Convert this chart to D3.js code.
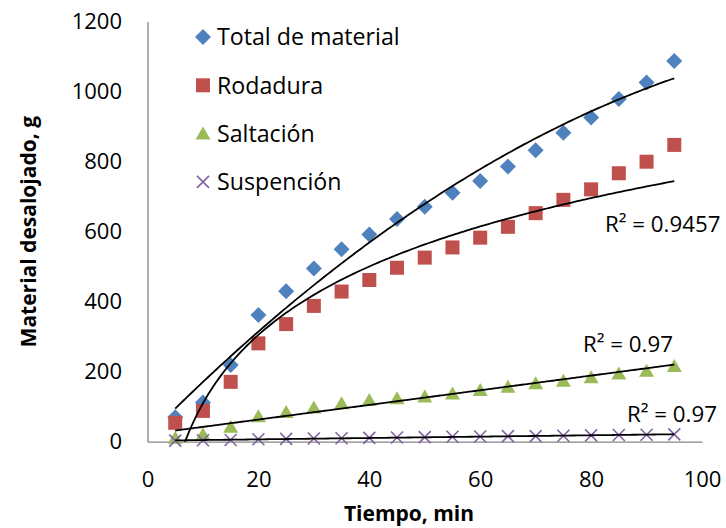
<!DOCTYPE html>
<html>
<head>
<meta charset="utf-8">
<script src="https://cdn.jsdelivr.net/npm/d3@7"></script>
<style>
  body { margin: 0; background: #fff; }
  svg text { font-family: "Open Sans", sans-serif; fill: #000; }
</style>
</head>
<body>
<div id="chart"></div>
<script>
// minutes
const tiempo = [5, 10, 15, 20, 25, 30, 35, 40, 45, 50, 55, 60, 65, 70, 75, 80, 85, 90, 95];

// material desalojado, g
const total = [70, 112, 219, 362, 430, 495, 550, 592, 636, 671, 711, 745, 786, 833, 883, 926, 979, 1026, 1088];
const rodadura = [54, 88, 171, 281, 336, 388, 429, 462, 497, 526, 555, 583, 614, 653, 691, 721, 767, 800, 848];
const saltacion = [11, 21, 43, 73, 85, 98, 110, 119, 124, 129, 138, 148, 157, 167, 174, 184, 195, 203, 216];
const suspencion = [3, 4, 5, 7, 8, 9, 10, 11, 12, 13, 14, 15, 16, 16, 17, 18, 19, 20, 21];

const seriesNames = ["Total de material", "Rodadura", "Saltación", "Suspención"];
const seriesColors = ["#4F81BD", "#C0504D", "#9BBB59", "#8064A2"];
const seriesShapes = ["diamond", "square", "triangle", "cross"];
const trendTypes = ["poly2", "log", "linear", "linear"];
const r2Labels = [null, "R² = 0.9457", "R² = 0.97", "R² = 0.97"];

const xTicks = [0, 20, 40, 60, 80, 100];
const yTicks = [0, 200, 400, 600, 800, 1000, 1200];

const W = 726, H = 528;
const plot = { left: 147.5, right: 702, top: 21.7, bottom: 441.7 };

const svg = d3.select("#chart").append("svg")
    .attr("width", W)
    .attr("height", H);

const x = d3.scaleLinear().domain([0, 100]).range([plot.left, plot.right]);
const y = d3.scaleLinear().domain([0, 1200]).range([plot.bottom, plot.top]);

// axes
const xAxis = svg.append("g")
    .attr("transform", `translate(0, ${plot.bottom})`)
    .call(d3.axisBottom(x).tickValues(xTicks).tickFormat(d3.format("d")).tickSize(0).tickPadding(29.5));
const yAxis = svg.append("g")
    .attr("transform", `translate(${plot.left}, 0)`)
    .call(d3.axisLeft(y).tickValues(yTicks).tickFormat(d3.format("d")).tickSize(0).tickPadding(25.5));

[xAxis, yAxis].forEach(g => {
    g.select(".domain").attr("stroke", "#868686").attr("stroke-width", 1.3);
    g.selectAll("text")
        .attr("font-family", "'Open Sans', sans-serif")
        .attr("font-size", 22)
        .attr("fill", "#000");
});

// axis titles
svg.append("text")
    .attr("x", 409)
    .attr("y", 521)
    .attr("text-anchor", "middle")
    .attr("font-size", 21)
    .attr("font-weight", "bold")
    .text("Tiempo, min");

svg.append("text")
    .attr("transform", `translate(36, ${(plot.top + plot.bottom) / 2}) rotate(-90)`)
    .attr("text-anchor", "middle")
    .attr("font-size", 21)
    .attr("font-weight", "bold")
    .text("Material desalojado, g");

// markers
function drawMarker(g, shape, color, cx, cy) {
    if (shape === "diamond") {
        g.append("path")
            .attr("d", `M${cx},${cy - 8}L${cx + 8},${cy}L${cx},${cy + 8}L${cx - 8},${cy}Z`)
            .attr("fill", color);
    } else if (shape === "square") {
        g.append("rect")
            .attr("x", cx - 7).attr("y", cy - 7)
            .attr("width", 14).attr("height", 14)
            .attr("fill", color);
    } else if (shape === "triangle") {
        g.append("path")
            .attr("d", `M${cx},${cy - 7}L${cx + 7.5},${cy + 6}L${cx - 7.5},${cy + 6}Z`)
            .attr("fill", color);
    } else {
        g.append("path")
            .attr("d", `M${cx - 6},${cy - 6}L${cx + 6},${cy + 6}M${cx + 6},${cy - 6}L${cx - 6},${cy + 6}`)
            .attr("stroke", color)
            .attr("stroke-width", 1.6)
            .attr("fill", "none");
    }
}

const allSeries = [total, rodadura, saltacion, suspencion];

allSeries.forEach((vals, i) => {
    const g = svg.append("g");
    vals.forEach((v, j) => drawMarker(g, seriesShapes[i], seriesColors[i], x(tiempo[j]), y(v)));
});

// least squares trend lines, like the spreadsheet ones
function solve3(A, b) {
    const M = A.map((r, i) => r.concat([b[i]]));
    for (let c = 0; c < 3; c++) {
        let p = c;
        for (let r = c + 1; r < 3; r++) if (Math.abs(M[r][c]) > Math.abs(M[p][c])) p = r;
        [M[c], M[p]] = [M[p], M[c]];
        for (let r = 0; r < 3; r++) {
            if (r === c) continue;
            const f = M[r][c] / M[c][c];
            for (let k = c; k < 4; k++) M[r][k] -= f * M[c][k];
        }
    }
    return M.map((r, i) => r[3] / r[i]);
}

function linFit(xs, ys) {
    const mx = d3.mean(xs), my = d3.mean(ys);
    const sxy = d3.sum(xs, (v, i) => (v - mx) * (ys[i] - my));
    const sxx = d3.sum(xs, v => (v - mx) * (v - mx));
    const b = sxy / sxx;
    return [my - b * mx, b];
}

function trendFn(type, xs, ys) {
    if (type === "linear") {
        const [a, b] = linFit(xs, ys);
        return t => a + b * t;
    }
    if (type === "log") {
        const [a, b] = linFit(xs.map(Math.log), ys);
        return t => a + b * Math.log(t);
    }
    // poly order 2
    const s = k => d3.sum(xs, v => Math.pow(v, k));
    const sy = k => d3.sum(xs, (v, i) => Math.pow(v, k) * ys[i]);
    const c = solve3([[s(0), s(1), s(2)], [s(1), s(2), s(3)], [s(2), s(3), s(4)]], [sy(0), sy(1), sy(2)]);
    return t => c[0] + c[1] * t + c[2] * t * t;
}

svg.append("clipPath").attr("id", "plotclip")
    .append("rect")
    .attr("x", plot.left).attr("y", plot.top)
    .attr("width", plot.right - plot.left).attr("height", plot.bottom - plot.top);

const tGrid = d3.range(5, 95.01, 0.5);
const line = d3.line().x(d => x(d[0])).y(d => y(d[1]));

allSeries.forEach((vals, i) => {
    const f = trendFn(trendTypes[i], tiempo, vals);
    svg.append("path")
        .attr("clip-path", "url(#plotclip)")
        .attr("d", line(tGrid.map(t => [t, f(t)])))
        .attr("fill", "none")
        .attr("stroke", "#000")
        .attr("stroke-width", 1.8);
});

// R² labels
const r2Pos = [null, [605, 232], [583, 351.5], [627, 421.5]];
r2Labels.forEach((lab, i) => {
    if (!lab) return;
    svg.append("text")
        .attr("x", r2Pos[i][0])
        .attr("y", r2Pos[i][1])
        .attr("font-size", 22.3)
        .text(lab);
});

// legend
const legend = svg.append("g");
seriesNames.forEach((name, i) => {
    const cy = 37 + i * 48.3;
    drawMarker(legend, seriesShapes[i], seriesColors[i], 203, cy);
    legend.append("text")
        .attr("x", 217)
        .attr("y", cy)
        .attr("dy", "0.36em")
        .attr("font-size", 23.2)
        .text(name);
});
</script>
</body>
</html>
